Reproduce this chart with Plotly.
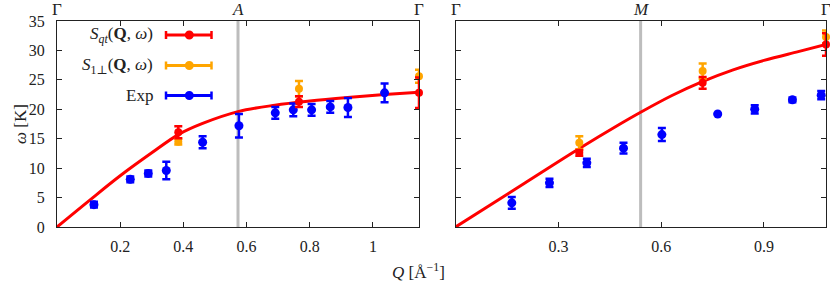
import plotly.graph_objects as go

# ---------------- data ----------------
# Left panel: Gamma - A - Gamma
A_q = 0.573
left_max = 1.146
exp_q_L = [0.117, 0.232, 0.289, 0.346, 0.461, 0.576, 0.691, 0.748, 0.806, 0.865, 0.921, 1.037]
exp_w_L = [3.8, 8.1, 9.1, 9.6, 14.4, 17.2, 19.4, 19.9, 19.9, 20.4, 20.3, 22.8]
exp_e_L = [0.5, 0.5, 0.5, 1.5, 1.0, 2.0, 1.0, 1.1, 1.0, 1.0, 1.6, 1.6]
sqt_q_L = [0.384, 0.766, 1.146]
sqt_w_L = [16.1, 21.3, 22.8]
sqt_e_L = [1.0, 0.9, 2.6]
s1_q_L = [0.384, 0.766, 1.146]
s1_w_L = [14.5, 23.5, 25.6]
s1_e_L = [0.5, 1.3, 1.1]
curve_q_L = [0, 0.1, 0.2, 0.3, 0.384, 0.461, 0.573, 0.69, 0.8, 0.92, 1.037, 1.146]
curve_w_L = [0, 4.4, 8.7, 12.6, 15.7, 17.6, 19.6, 20.7, 21.4, 22.0, 22.5, 22.9]

# Right panel: Gamma - M - Gamma
M_q = 0.540
right_max = 1.081
exp_q_R = [0.164, 0.274, 0.383, 0.490, 0.602, 0.765, 0.873, 0.983, 1.067]
exp_w_R = [4.1, 7.5, 10.9, 13.4, 15.7, 19.2, 20.0, 21.6, 22.4]
exp_e_R = [1.0, 0.7, 0.7, 0.9, 1.1, 0.0, 0.7, 0.4, 0.7]
sqt_q_R = [0.361, 0.721, 1.081]
sqt_w_R = [12.6, 24.5, 31.0]
sqt_e_R = [0.5, 1.0, 1.9]
s1_q_R = [0.361, 0.721, 1.081]
s1_w_R = [14.3, 26.5, 32.3]
s1_e_R = [1.1, 1.3, 1.1]
curve_q_R = [0, 0.2, 0.36, 0.48, 0.54, 0.63, 0.72, 0.81, 0.9, 1.0, 1.081]
curve_w_R = [0, 7.4, 13.3, 17.5, 19.5, 22.3, 24.7, 26.7, 28.3, 29.8, 31.0]

y_ticks = [0, 5, 10, 15, 20, 25, 30, 35]
x_ticks_L = [0.2, 0.4, 0.6, 0.8, 1.0]
x_ticks_L_text = ["0.2", "0.4", "0.6", "0.8", "1"]
x_ticks_R = [0.3, 0.6, 0.9]
x_ticks_R_text = ["0.3", "0.6", "0.9"]

legend_labels = ["<i>S</i><sub><i>qt</i></sub>(<b>Q</b>, <i>ω</i>)",
                 "<i>S</i><sub>1⊥</sub>(<b>Q</b>, <i>ω</i>)",
                 "Exp"]

# ---------------- styling ----------------
RED = "#ff0000"
ORANGE = "#ffa500"
BLUE = "#0000ff"
FONT = "Liberation Serif, DejaVu Serif, serif"
TXT = "#222222"
W, H = 830, 285
ML, MR, MT, MB = 57, 4, 21, 58
PW, PH = W - ML - MR, H - MT - MB


def px_x(p):
    return (p - ML) / PW


def px_y(p):
    return (H - MB - p) / PH


dom_L = [0, px_x(419)]
dom_R = [px_x(455.6), 1]

fig = go.Figure()


def add_panel(xa, ya, cq, cw, eq, ew, ee, sq, sw, se, oq, ow, oe):
    fig.add_trace(go.Scatter(x=cq, y=cw, mode="lines", line=dict(color=RED, width=3, shape="spline"),
                             xaxis=xa, yaxis=ya, showlegend=False, hoverinfo="skip"))
    fig.add_trace(go.Scatter(x=eq, y=ew, mode="markers", marker=dict(color=BLUE, size=9),
                             error_y=dict(type="data", array=ee, color=BLUE, thickness=2.5, width=4),
                             xaxis=xa, yaxis=ya, showlegend=False, cliponaxis=False))
    fig.add_trace(go.Scatter(x=oq, y=ow, mode="markers", marker=dict(color=ORANGE, size=8),
                             error_y=dict(type="data", array=oe, color=ORANGE, thickness=2.5, width=4),
                             xaxis=xa, yaxis=ya, showlegend=False, cliponaxis=False))
    fig.add_trace(go.Scatter(x=sq, y=sw, mode="markers", marker=dict(color=RED, size=8),
                             error_y=dict(type="data", array=se, color=RED, thickness=2.5, width=4),
                             xaxis=xa, yaxis=ya, showlegend=False, cliponaxis=False))


add_panel("x", "y", curve_q_L, curve_w_L, exp_q_L, exp_w_L, exp_e_L,
          sqt_q_L, sqt_w_L, sqt_e_L, s1_q_L, s1_w_L, s1_e_L)
add_panel("x2", "y2", curve_q_R, curve_w_R, exp_q_R, exp_w_R, exp_e_R,
          sqt_q_R, sqt_w_R, sqt_e_R, s1_q_R, s1_w_R, s1_e_R)

axis_common = dict(showline=True, linecolor=TXT, linewidth=1, mirror="ticks", ticks="inside",
                   ticklen=5, tickcolor=TXT, showgrid=False, zeroline=False, automargin=False,
                   tickfont=dict(family=FONT, size=16, color=TXT))

fig.update_layout(
    width=W, height=H, autosize=False,
    margin=dict(l=ML, r=MR, t=MT, b=MB, pad=0),
    paper_bgcolor="white", plot_bgcolor="white",
    template="none",
    font=dict(family=FONT, size=16, color=TXT),
    xaxis=dict(domain=dom_L, range=[0, left_max], tickvals=x_ticks_L, ticktext=x_ticks_L_text,
               anchor="y", ticklabelstandoff=5, **axis_common),
    yaxis=dict(domain=[0, 1], range=[0, 35], tickvals=y_ticks, anchor="x",
               ticklabelstandoff=8, **axis_common),
    xaxis2=dict(domain=dom_R, range=[0, right_max], tickvals=x_ticks_R, ticktext=x_ticks_R_text,
                anchor="y2", ticklabelstandoff=5, **axis_common),
    yaxis2=dict(domain=[0, 1], range=[0, 35], tickvals=y_ticks, anchor="x2",
                showticklabels=False, **axis_common),
    showlegend=False,
)

# high-symmetry vertical lines
fig.add_shape(type="line", xref="x", yref="paper", x0=A_q, x1=A_q, y0=0, y1=1,
              line=dict(color="#bdbdbd", width=3), layer="below")
fig.add_shape(type="line", xref="x2", yref="paper", x0=M_q, x1=M_q, y0=0, y1=1,
              line=dict(color="#bdbdbd", width=3), layer="below")

# high-symmetry labels on top
top_labels = [("x", 0, "Γ"), ("x", A_q, "<i>A</i>"), ("x", left_max, "Γ"),
              ("x2", 0, "Γ"), ("x2", M_q, "<i>M</i>"), ("x2", right_max, "Γ")]
for xr, xv, t in top_labels:
    fig.add_annotation(xref=xr, yref="paper", x=xv, y=1, yanchor="bottom", xanchor="center", yshift=0,
                       text=t, showarrow=False, font=dict(family=FONT, size=17, color=TXT))

# axis titles
fig.add_annotation(xref="paper", yref="paper", x=px_x(20), y=px_y(124), text="<i>ω</i> [K]",
                   textangle=-90, xanchor="center", yanchor="middle", showarrow=False,
                   font=dict(family=FONT, size=17, color=TXT))
fig.add_annotation(xref="paper", yref="paper", x=px_x(418), y=px_y(271),
                   text="<i>Q</i> [Å<sup>−1</sup>]", xanchor="center", yanchor="middle", showarrow=False,
                   font=dict(family=FONT, size=17, color=TXT))

# custom legend (text on the left, key on the right)
legend_rows = [(35, RED, legend_labels[0]), (65.5, ORANGE, legend_labels[1]), (95.5, BLUE, legend_labels[2])]
for py, col, lab in legend_rows:
    yy = px_y(py)
    fig.add_annotation(xref="paper", yref="paper", x=px_x(155), y=yy, xanchor="right",
                       yanchor="middle", text=lab, showarrow=False,
                       font=dict(family=FONT, size=17, color=TXT))
    fig.add_shape(type="line", xref="paper", yref="paper", x0=px_x(166), x1=px_x(211.5),
                  y0=yy, y1=yy, line=dict(color=col, width=3))
    for cx in (166, 211.5):
        fig.add_shape(type="line", xref="paper", yref="paper", xsizemode="pixel", ysizemode="pixel",
                      xanchor=px_x(cx), yanchor=yy, x0=0, x1=0, y0=-4, y1=4,
                      line=dict(color=col, width=2.5))
    fig.add_shape(type="circle", xref="paper", yref="paper", xsizemode="pixel", ysizemode="pixel",
                  xanchor=px_x(189.3), yanchor=yy, x0=-4.5, x1=4.5, y0=-4.5, y1=4.5,
                  fillcolor=col, line=dict(color=col, width=0))

fig.write_html("out.html", config={"displayModeBar": False},
               post_script="document.body.style.margin='0';document.body.style.overflow='hidden';")
